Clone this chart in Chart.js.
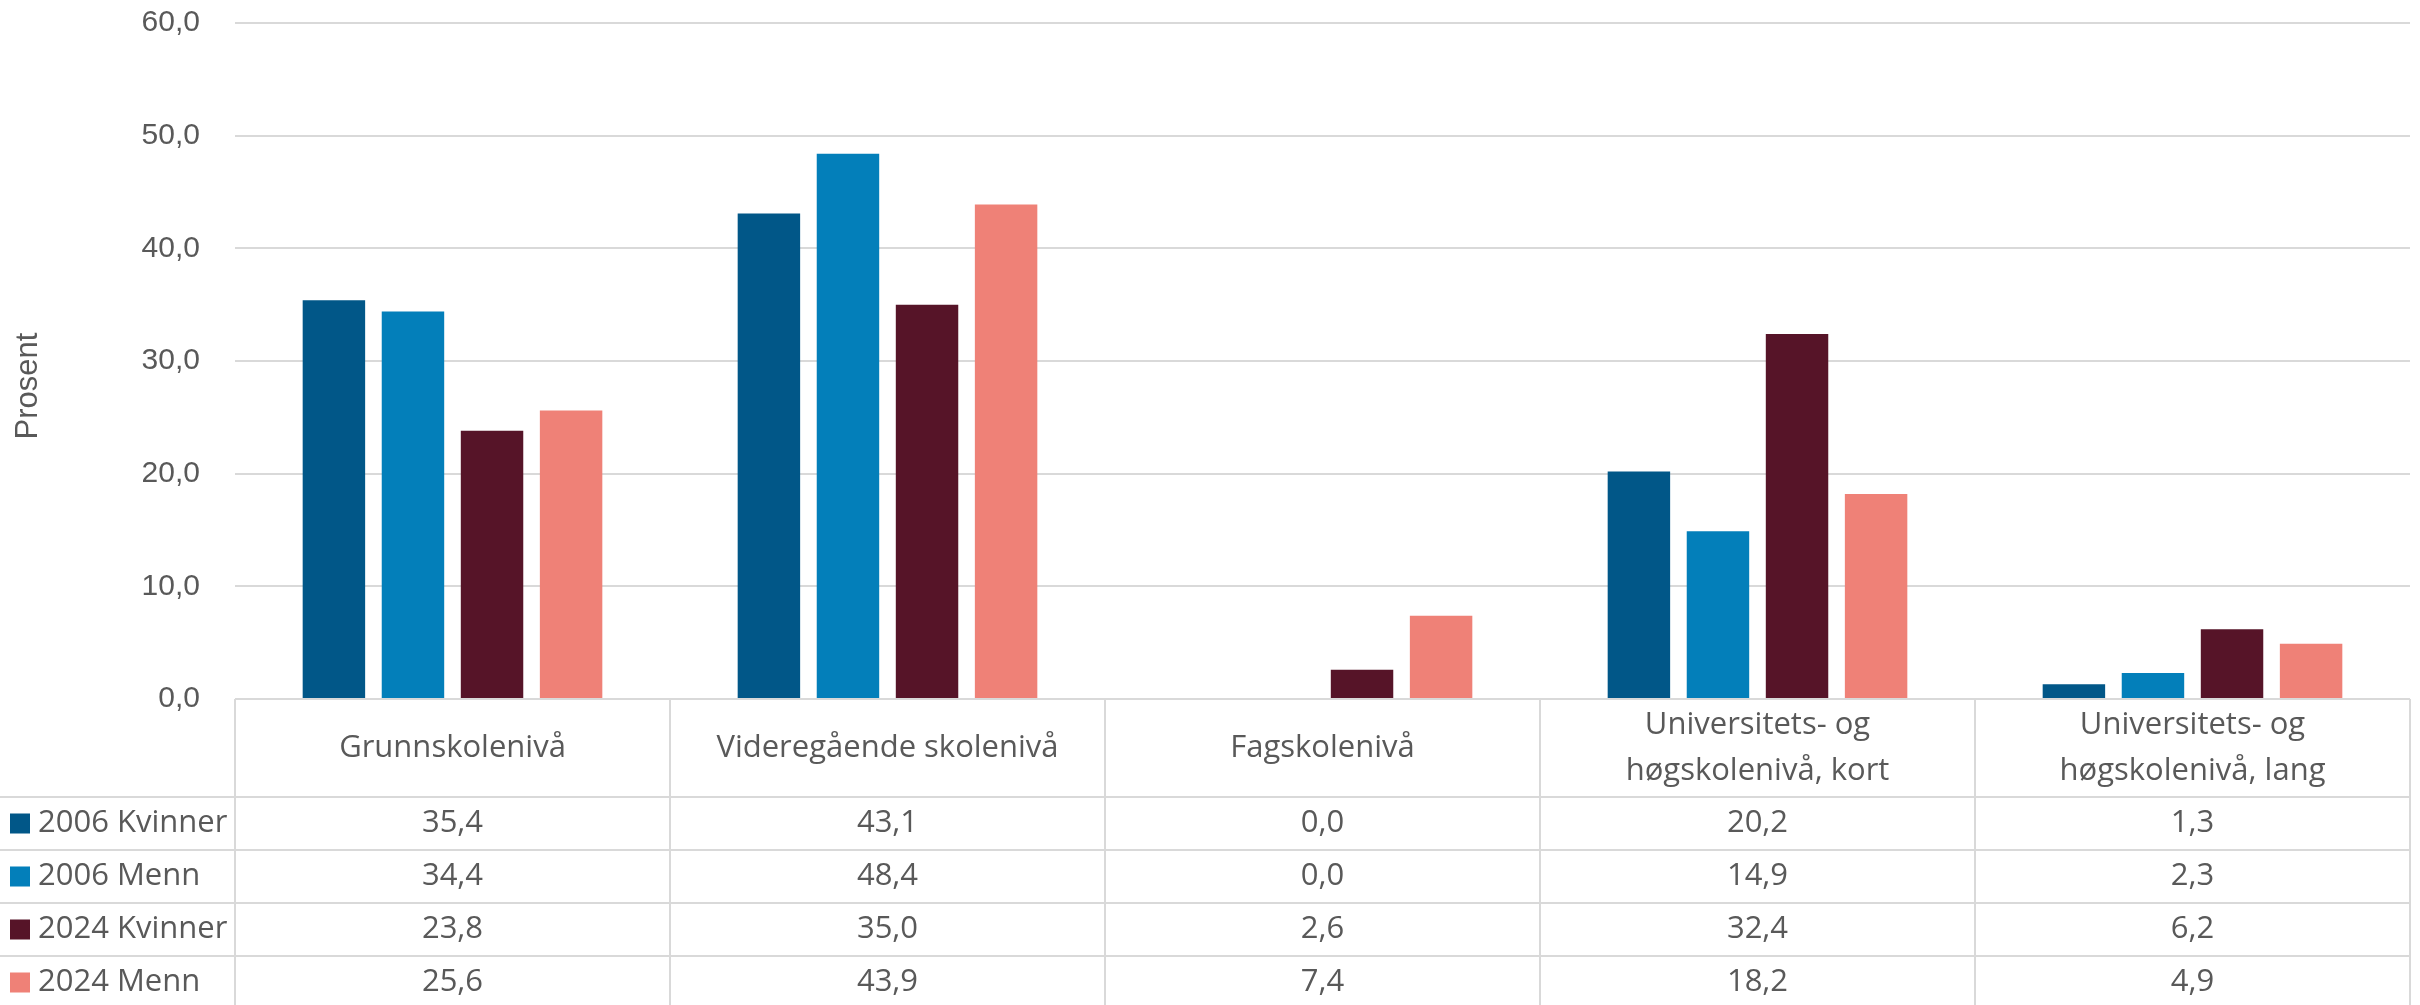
<!DOCTYPE html>
<html>
<head>
<meta charset="utf-8">
<script src="https://cdn.jsdelivr.net/npm/chart.js@4/dist/chart.umd.min.js"></script>
<style>
  html, body { margin: 0; padding: 0; background: #ffffff; }
  #wrap { width: 2420px; height: 1005px; position: relative; }
</style>
</head>
<body>
<div id="wrap"><canvas id="c" width="2420" height="1005"></canvas></div>
<script>
// ---- data ----
const categories = [
  ['Grunnskolenivå'],
  ['Videregående skolenivå'],
  ['Fagskolenivå'],
  ['Universitets- og', 'høgskolenivå, kort'],
  ['Universitets- og', 'høgskolenivå, lang']
];
const seriesNames = ['2006 Kvinner', '2006 Menn', '2024 Kvinner', '2024 Menn'];
const kvinner2006 = [35.4, 43.1, 0.0, 20.2, 1.3];
const menn2006    = [34.4, 48.4, 0.0, 14.9, 2.3];
const kvinner2024 = [23.8, 35.0, 2.6, 32.4, 6.2];
const menn2024    = [25.6, 43.9, 7.4, 18.2, 4.9];
const yTickValues = [0, 10, 20, 30, 40, 50, 60];
const yTitle = 'Prosent';

// ---- styling ----
const colors = ['#015788', '#037FBA', '#561428', '#EF8177'];
const textColor = '#595959';
const lineColor = '#d9d9d9';
const tickFont = '"Liberation Sans", Arial, sans-serif';
const tableFont = '"Open Sans", "Noto Sans", sans-serif';
const fmt = v => v.toFixed(1).replace('.', ',');

const seriesData = [kvinner2006, menn2006, kvinner2024, menn2024];

const tablePlugin = {
  id: 'dataTable',
  afterDraw(chart) {
    const { ctx, chartArea, scales: { x } } = chart;
    const n = categories.length;
    const catW = (chartArea.right - chartArea.left) / n;
    const top = chartArea.bottom;
    const headerH = 98;
    const rowH = 53;
    const bottom = chart.height;

    ctx.save();
    // grid lines of the table
    ctx.strokeStyle = lineColor;
    ctx.lineWidth = 2;
    ctx.beginPath();
    ctx.moveTo(chartArea.left, top);
    ctx.lineTo(chartArea.right, top);
    for (let r = 0; r < seriesNames.length; r++) {
      const yy = Math.round(top + headerH + r * rowH);
      ctx.moveTo(0, yy);
      ctx.lineTo(chartArea.right, yy);
    }
    for (let i = 0; i <= n; i++) {
      const xx = i < n ? x.getPixelForValue(i) - catW / 2 : x.getPixelForValue(n - 1) + catW / 2;
      ctx.moveTo(Math.round(xx), top);
      ctx.lineTo(Math.round(xx), bottom);
    }
    ctx.stroke();

    // header text
    ctx.fillStyle = textColor;
    ctx.font = '31px ' + tableFont;
    ctx.textAlign = 'center';
    ctx.textBaseline = 'middle';
    const lineGap = 46;
    categories.forEach((lines, i) => {
      const cx = x.getPixelForValue(i);
      const cy = top + headerH / 2;
      const start = cy - (lines.length - 1) * lineGap / 2;
      lines.forEach((t, k) => ctx.fillText(t, cx, start + k * lineGap));
    });

    // data rows
    seriesNames.forEach((name, r) => {
      const cy = top + headerH + r * rowH + rowH / 2;
      ctx.fillStyle = colors[r];
      ctx.fillRect(10, cy - 10, 20, 20);
      ctx.fillStyle = textColor;
      ctx.textAlign = 'left';
      ctx.fillText(name, 38, cy);
      ctx.textAlign = 'center';
      seriesData[r].forEach((v, i) => {
        ctx.fillText(fmt(v), x.getPixelForValue(i), cy);
      });
    });

    // y-axis title
    ctx.translate(28, 386);
    ctx.rotate(-Math.PI / 2);
    ctx.font = '31px ' + tickFont;
    ctx.textAlign = 'center';
    ctx.fillText(yTitle, 0, 0);
    ctx.restore();
  }
};

new Chart(document.getElementById('c'), {
  type: 'bar',
  data: {
    labels: categories.map(c => c.join(' ')),
    datasets: seriesNames.map((name, i) => ({
      label: name,
      data: seriesData[i],
      backgroundColor: colors[i],
      borderWidth: 0,
      categoryPercentage: 0.727,
      barPercentage: 0.79
    }))
  },
  options: {
    responsive: false,
    animation: false,
    devicePixelRatio: 1,
    layout: { padding: { left: 0, top: 23, right: 10, bottom: 306 } },
    plugins: { legend: { display: false }, tooltip: { enabled: false } },
    scales: {
      x: { display: false },
      y: {
        min: yTickValues[0],
        max: yTickValues[yTickValues.length - 1],
        afterBuildTicks: s => { s.ticks = yTickValues.map(v => ({ value: v })); },
        afterFit: s => { s.width = 235; },
        ticks: {
          callback: v => fmt(v),
          color: textColor,
          font: { family: tickFont, size: 30 },
          padding: 2
        },
        grid: { color: lineColor, lineWidth: 2, drawTicks: true, tickLength: 33, tickColor: 'rgba(0,0,0,0)' },
        border: { display: false }
      }
    }
  },
  plugins: [tablePlugin]
});
</script>
</body>
</html>
